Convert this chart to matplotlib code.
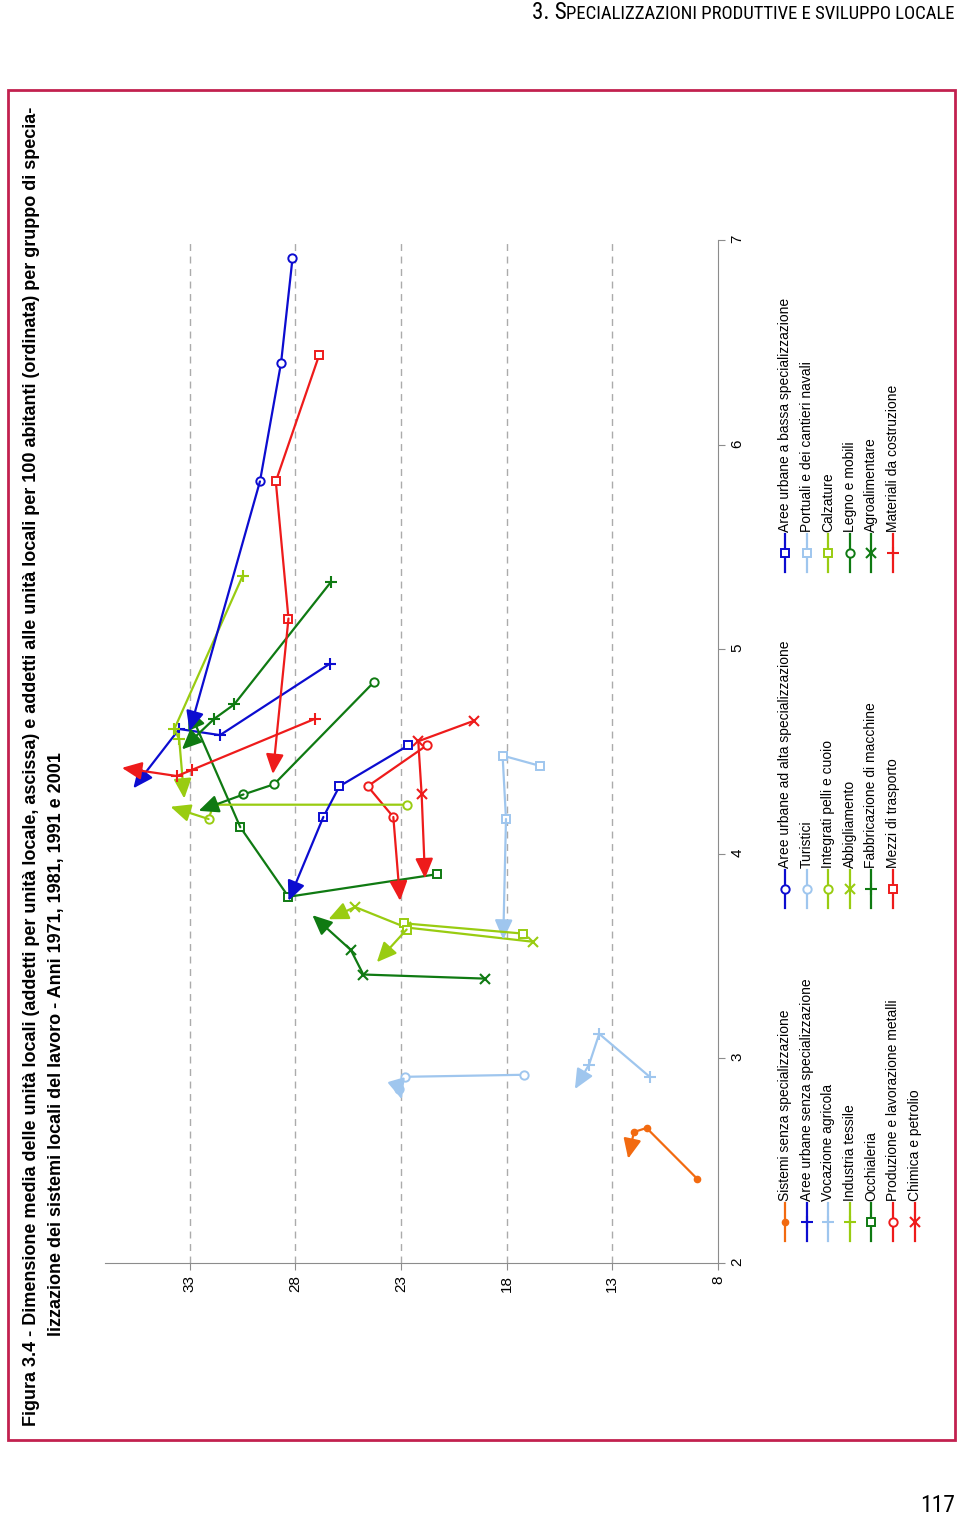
import matplotlib
matplotlib.use('Agg')
import matplotlib.pyplot as plt
from matplotlib import font_manager
from matplotlib.patches import Rectangle

# ascissa = addetti per unita' locale, ordinata = addetti per 100 abitanti
# punti: 1971, 1981, 1991, 2001 (freccia sull'ultimo)
labels = ['Sistemi senza specializzazione',
          'Aree urbane senza specializzazione',
          'Vocazione agricola',
          'Industria tessile',
          'Occhialeria',
          'Produzione e lavorazione metalli',
          'Chimica e petrolio',
          'Aree urbane ad alta specializzazione',
          'Turistici',
          'Integrati pelli e cuoio',
          'Abbigliamento',
          'Fabbricazione di macchine',
          'Mezzi di trasporto',
          'Aree urbane a bassa specializzazione',
          'Portuali e dei cantieri navali',
          'Calzature',
          'Legno e mobili',
          'Agroalimentare',
          'Materiali da costruzione']

ascissa = [[2.41, 2.66, 2.64, 2.51],
           [4.93, 4.58, 4.61, 4.32],
           [2.91, 3.12, 2.97, 2.85],
           [5.36, 4.61, 4.56, 4.27],
           [3.90, 3.79, 4.13, 4.71],
           [4.53, 4.33, 4.18, 3.77],
           [4.65, 4.55, 4.29, 3.88],
           [6.91, 6.40, 5.82, 4.60],
           [2.92, 2.91, 2.85, 2.80],
           [4.24, 4.24, 4.17, 4.23],
           [3.57, 3.64, 3.74, 3.68],
           [5.33, 4.73, 4.66, 4.51],
           [6.44, 5.82, 5.15, 4.39],
           [4.53, 4.33, 4.18, 3.77],
           [4.43, 4.48, 4.17, 3.58],
           [3.61, 3.66, 3.63, 3.47],
           [4.84, 4.34, 4.29, 4.21],
           [3.39, 3.41, 3.53, 3.70],
           [4.66, 4.41, 4.38, 4.42]]

ordinata = [[8.97, 11.38, 11.98, 12.25],
            [26.35, 31.56, 33.49, 35.66],
            [11.23, 13.62, 14.10, 14.77],
            [30.48, 33.72, 33.49, 33.25],
            [21.31, 28.32, 30.60, 33.05],
            [21.78, 24.57, 23.36, 23.04],
            [19.55, 22.18, 22.02, 21.86],
            [28.13, 28.67, 29.67, 33.00],
            [17.18, 22.81, 23.10, 22.96],
            [22.70, 31.87, 32.10, 33.90],
            [16.74, 22.76, 25.17, 26.43],
            [26.30, 30.89, 31.83, 33.36],
            [26.86, 28.92, 28.32, 29.06],
            [22.65, 25.91, 26.67, 28.32],
            [16.43, 18.19, 18.03, 18.16],
            [17.22, 22.84, 22.73, 24.14],
            [24.27, 29.00, 30.45, 32.57],
            [19.03, 24.78, 25.37, 27.19],
            [27.06, 32.89, 33.60, 36.20]]

xticks = [2, 3, 4, 5, 6, 7]
yticks = [8, 13, 18, 23, 28, 33]

orange = '#f26a10'
blue = '#0c0cd0'
lblue = '#9fc6ee'
ygreen = '#99cc11'
green = '#0f7a12'
red = '#ee1b1b'
colori = [orange, blue, lblue, ygreen, green, red, red,
          blue, lblue, ygreen, ygreen, green, red,
          blue, lblue, ygreen, green, green, red]
marker = ['dot', '+', '+', '+', 's', 'o', 'x',
          'o', 'o', 'o', 'x', '+', 's',
          's', 's', 's', 'o', 'x', '+']


def mstyle(m, c):
    if m == 'dot':
        return dict(marker='o', ms=4.5, mfc=c, mec=c)
    if m == '+':
        return dict(marker='+', ms=8, mew=1.5, mec=c)
    if m == 'x':
        return dict(marker='x', ms=6.5, mew=1.5, mec=c)
    return dict(marker=m, ms=6, mfc='white', mec=c, mew=1.4)


names = {f.name for f in font_manager.fontManager.ttflist}
font = 'Liberation Sans' if 'Liberation Sans' in names else 'DejaVu Sans'
narrow = font
for n in ['Liberation Sans Narrow', 'DejaVu Sans Condensed', 'Roboto Condensed']:
    if n in names:
        narrow = n
        break
plt.rcParams['font.family'] = [font, 'DejaVu Sans']

fig = plt.figure(figsize=(9.6, 15.2), dpi=100)

# pagina (coordinate in pixel)
page = fig.add_axes([0, 0, 1, 1])
page.set_xlim(0, 960)
page.set_ylim(1520, 0)
page.axis('off')
page.add_patch(Rectangle((8, 90), 947, 1350, fill=False, ec='#c2214f', lw=2))

# grafico ruotato: orizzontale = ordinata (invertita), verticale = ascissa
ax = fig.add_axes([105 / 960, 1 - 1263 / 1520, 613 / 960, 1023 / 1520])
ax.set_xlim(37, 8)
ax.set_ylim(2, 7)
ax.set_xticks(yticks)
ax.set_yticks(xticks)
ax.yaxis.tick_right()
for s in ['left', 'top']:
    ax.spines[s].set_visible(False)
for s in ['bottom', 'right']:
    ax.spines[s].set_color('#8c8c8c')
ax.tick_params(direction='out', length=5, color='#8c8c8c', labelsize=11,
               labelrotation=90, pad=4)
ax.patch.set_alpha(0)
for v in yticks[1:]:
    ax.axvline(v, color='#ababab', ls=(0, (5, 4)), lw=1, zorder=0)

for i in range(len(labels)):
    c = colori[i]
    xs = ascissa[i]
    ys = ordinata[i]
    ax.plot(ys[:3], xs[:3], color=c, lw=1.6, **mstyle(marker[i], c), zorder=3)
    ax.annotate('', xy=(ys[3], xs[3]), xytext=(ys[2], xs[2]),
                arrowprops=dict(arrowstyle='-|>,head_length=1.0,head_width=0.45',
                                color=c, lw=1.6, shrinkA=0, shrinkB=0,
                                mutation_scale=12), zorder=3)

# legenda
col_m = [1222, 889, 553]
righe = [[0, 1, 2, 3, 4, 5, 6], [7, 8, 9, 10, 11, 12], [13, 14, 15, 16, 17, 18]]
for k, col in enumerate(righe):
    for j, i in enumerate(col):
        px = 785 + j * 21.6
        py = col_m[k]
        page.plot([px, px, px], [py - 19, py, py + 19], color=colori[i], lw=1.6,
                  markevery=[1], **mstyle(marker[i], colori[i]))
        page.text(px, py - 21, labels[i], rotation=90, ha='center', va='bottom',
                  fontsize=10)

# titolo
t1 = page.text(32, 1426, 'Figura 3.4 - Dimensione media delle unità locali (addetti per unità '
               'locale, ascissa) e addetti alle unità locali per 100 abitanti (ordinata) '
               'per gruppo di specia-', rotation=90, ha='center', va='bottom',
               fontsize=12, fontweight='bold')
t2 = page.text(57, 1336, 'lizzazione dei sistemi locali del lavoro - Anni 1971, 1981, 1991 e 2001',
               rotation=90, ha='center', va='bottom', fontsize=12, fontweight='bold')
fig.canvas.draw()
r = fig.canvas.get_renderer()
h = t1.get_window_extent(r).height
fs = 12 * 1316 / h
t1.set_fontsize(fs)
t2.set_fontsize(fs)

# intestazione in maiuscoletto
h2 = page.text(955, 19, 'PECIALIZZAZIONI PRODUTTIVE E SVILUPPO LOCALE', ha='right',
               va='baseline', fontsize=13.5, family=narrow)
fig.canvas.draw()
bb = h2.get_window_extent(r)
x0 = page.transData.inverted().transform((bb.x0, bb.y0))[0]
page.text(x0, 19, '3. S', ha='right', va='baseline', fontsize=16.5, family=narrow)
page.text(955, 1512, '117', ha='right', va='baseline', fontsize=17, family=narrow)

fig.savefig('out.png', dpi=100, facecolor='white')
